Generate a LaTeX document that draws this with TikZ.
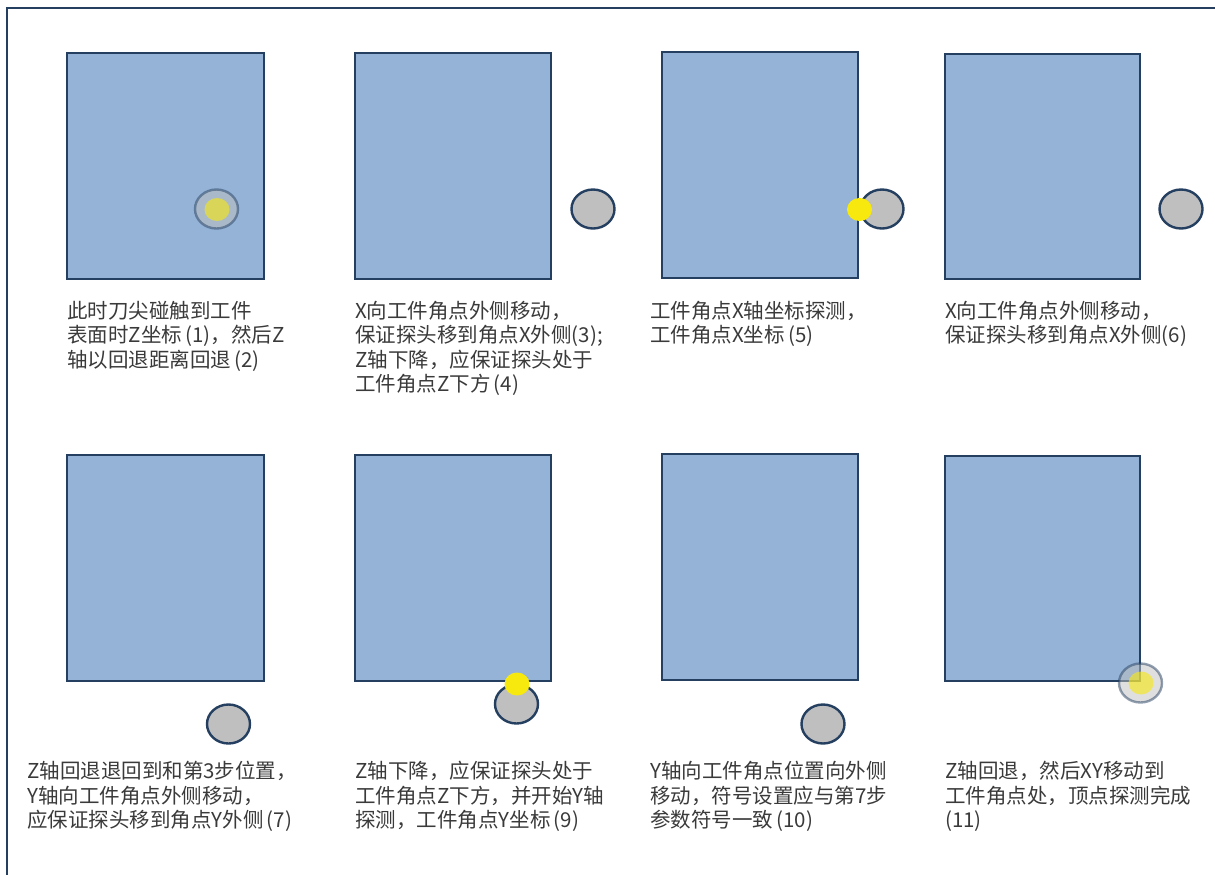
\documentclass[tikz,border=0pt]{standalone}
\usepackage{fontspec}
\newfontfamily\cjk{Noto Sans CJK SC}
\usetikzlibrary{shapes.geometric}
\definecolor{boxblue}{HTML}{95B3D7}
\definecolor{navy}{HTML}{243F60}
\definecolor{probegray}{HTML}{BFBFBF}
\definecolor{dotyellow}{HTML}{F7E90E}
\definecolor{txt}{HTML}{3A3A3A}
\tikzset{
  partbox/.style={draw=navy, line width=2.8pt, fill=boxblue, inner sep=0pt, outer sep=0pt, anchor=north west},
  probe/.style={ellipse, draw=navy, line width=2.4pt, fill=probegray, minimum width=43pt, minimum height=39pt, inner sep=0pt},
  ghostprobe/.style={ellipse, draw=navy, draw opacity=0.5, fill=probegray, fill opacity=0.5, line width=2.4pt, minimum width=43pt, minimum height=39pt, inner sep=0pt},
  ydot/.style={ellipse, fill=dotyellow, minimum width=25pt, minimum height=23pt, inner sep=0pt},
  ghostdot/.style={ellipse, fill=dotyellow, fill opacity=0.6, minimum width=25pt, minimum height=23pt, inner sep=0pt},
  captext/.style={anchor=north west, inner sep=0pt, align=left, text=txt, font=\cjk\fontsize{20.5}{24.5}\selectfont},
  outerframe/.style={draw=navy, line width=2.6pt}
}
\begin{document}
\begin{tikzpicture}[x=1pt,y=-1pt]
\useasboundingbox (0,0) rectangle (1215,875);
\clip (0,0) rectangle (1215,875);
\draw[outerframe] (7,8) rectangle (1240,900);
% row 1 parts
\node[partbox, minimum width=197pt, minimum height=226pt] (r1) at (67,53) {};
\node[partbox, minimum width=196pt, minimum height=226pt] (r2) at (355,53) {};
\node[partbox, minimum width=196pt, minimum height=226pt] (r3) at (662,52) {};
\node[partbox, minimum width=195pt, minimum height=225pt] (r4) at (945,54) {};
% row 2 parts
\node[partbox, minimum width=197pt, minimum height=226pt] (r5) at (67,455) {};
\node[partbox, minimum width=196pt, minimum height=226pt] (r6) at (355,455) {};
\node[partbox, minimum width=196pt, minimum height=226pt] (r7) at (662,454) {};
\node[partbox, minimum width=195pt, minimum height=225pt] (r8) at (945,456) {};
% probes
\node[ghostprobe] (c1) at (216.5,209) {};
\node[ghostdot] (y1) at (217,209.5) {};
\node[probe] (c2) at (593,209) {};
\node[probe] (c3) at (882,209) {};
\node[ydot] (y3) at (859.5,209.5) {};
\node[probe] (c4) at (1181,209) {};
\node[probe] (c5) at (228.5,724) {};
\node[probe] (c6) at (516.5,704) {};
\node[ydot] (y6) at (517,684) {};
\node[probe] (c7) at (823,724) {};
\node[ghostprobe] (c8) at (1140.5,683) {};
\node[ghostdot] (y8) at (1141,683) {};
% captions
\node[captext] (t1) at (67,301) {此时刀尖碰触到工件\\表面时Z坐标\,(1)，然后Z\\轴以回退距离回退\,(2)};
\node[captext] (t2) at (355,301) {X向工件角点外侧移动，\\保证探头移到角点X外侧(3);\\Z轴下降，应保证探头处于\\工件角点Z下方\,(4)};
\node[captext] (t3) at (650,301) {工件角点X轴坐标探测，\\工件角点X坐标\,(5)};
\node[captext] (t4) at (945,301) {X向工件角点外侧移动，\\保证探头移到角点X外侧(6)};
\node[captext] (t5) at (27,761) {Z轴回退退回到和第3步位置，\\Y轴向工件角点外侧移动，\\应保证探头移到角点Y外侧\,(7)};
\node[captext] (t6) at (355,761) {Z轴下降，应保证探头处于\\工件角点Z下方，并开始Y轴\\探测，工件角点Y坐标\,(9)};
\node[captext] (t7) at (650,761) {Y轴向工件角点位置向外侧\\移动，符号设置应与第7步\\参数符号一致\,(10)};
\node[captext] (t8) at (945,761) {Z轴回退，然后XY移动到\\工件角点处，顶点探测完成\\(11)};
\end{tikzpicture}
\end{document}
